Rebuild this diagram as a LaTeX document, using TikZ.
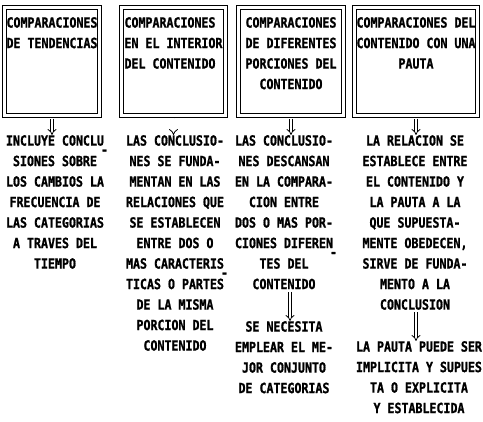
\documentclass[tikz,border=0pt]{standalone}
\usepackage{fontspec}
\newfontfamily\typew[FakeStretch=0.83,FakeBold=1.2]{DejaVu Sans Mono}
\usetikzlibrary{arrows.meta}
\newcommand{\hy}{\rlap{\kern-3pt\raisebox{-9pt}{-}}}

\begin{document}
\begin{tikzpicture}[x=1pt, y=-1pt,
        box/.style={draw, double, line width=1.2pt, double distance=2.8pt,
            minimum width=#1, minimum height=108pt, inner sep=0pt},
        txt/.style={font=\typew\bfseries\fontsize{14}{20.5}\selectfont,
            inner sep=0pt, anchor=north, align=center},
        arr/.style={double, line width=0.8pt, double distance=2.2pt,
            -{Implies}, shorten <=2.5pt}]
    \useasboundingbox (0,0) rectangle (483,422);
    % the four boxes
    \node[box=95pt]  (b1) at (52,61.5) {};
    \node[box=104pt] (b2) at (173.5,61.5) {};
    \node[box=105pt] (b3) at (291,61.5) {};
    \node[box=123pt] (b4) at (416,61.5) {};
    \node[txt, align=left] (t1) at (52,17) {COMPARACIONES\\DE TENDENCIAS};
    \node[txt, align=left] (t2) at (173.5,17) {COMPARACIONES\\EN EL INTERIOR\\DEL CONTENIDO};
    \node[txt] (t3) at (291,17) {COMPARACIONES\\DE DIFERENTES\\PORCIONES DEL\\CONTENIDO};
    \node[txt] (t4) at (416,17) {COMPARACIONES DEL\\CONTENIDO CON UNA\\PAUTA};
    % texts below
    \node[txt] (c1) at (55,135) {INCLUYE CONCLU\hy\\SIONES SOBRE\\LOS CAMBIOS LA\\FRECUENCIA DE\\LAS CATEGORIAS\\A TRAVES DEL\\TIEMPO};
    \node[txt] (c2) at (175,135) {LAS CONCLUSIO-\\NES SE FUNDA-\\MENTAN EN LAS\\RELACIONES QUE\\SE ESTABLECEN\\ENTRE DOS O\\MAS CARACTERIS\hy\\TICAS O PARTES\\DE LA MISMA\\PORCION DEL\\CONTENIDO};
    \node[txt] (c3) at (284,135) {LAS CONCLUSIO-\\NES DESCANSAN\\EN LA COMPARA-\\CION ENTRE\\DOS O MAS POR-\\CIONES DIFEREN\hy\\TES DEL\\CONTENIDO};
    \node[txt] (d3) at (284,321) {SE NECESITA\\EMPLEAR EL ME-\\JOR CONJUNTO\\DE CATEGORIAS};
    \node[txt] (c4) at (415,135) {LA RELACION SE\\ESTABLECE ENTRE\\EL CONTENIDO Y\\LA PAUTA A LA\\QUE SUPUESTA-\\MENTE OBEDECEN,\\SIRVE DE FUNDA-\\MENTO A LA\\CONCLUSION};
    \node[txt] (d4) at (419,341) {LA PAUTA PUEDE SER\\IMPLICITA Y SUPUES\\TA O EXPLICITA\\Y ESTABLECIDA};
    % arrows
    \draw[arr] (b1.south) -- (b1.south |- c1.north);
    \draw[arr] (b2.south) -- (b2.south |- c2.north);
    \draw[arr] (b3.south) -- (b3.south |- c3.north);
    \draw[arr] (b4.south) -- (b4.south |- c4.north);
    \draw[arr] (c3.south) ++(6,0) coordinate (a3) -- (a3 |- d3.north);
    \draw[arr] (c4.south) ++(1,0) coordinate (a4) -- (a4 |- d4.north);
\end{tikzpicture}
\end{document}
